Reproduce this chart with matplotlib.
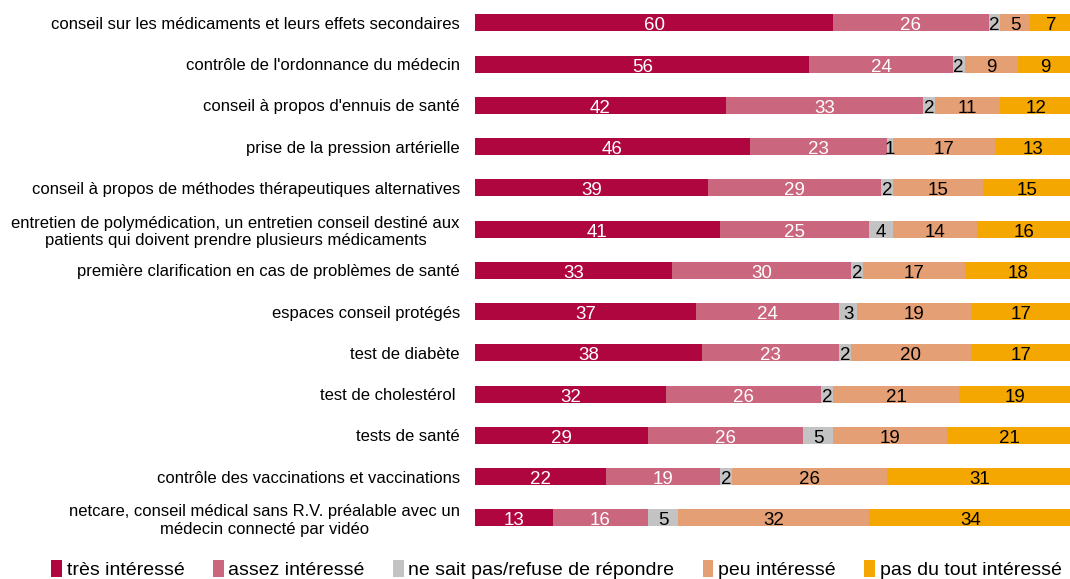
import matplotlib.pyplot as plt
import numpy as np

plt.rcParams['font.family'] = ['Liberation Sans', 'DejaVu Sans']

# data (percent)
categories = [
    "conseil sur les médicaments et leurs effets secondaires",
    "contrôle de l'ordonnance du médecin",
    "conseil à propos d'ennuis de santé",
    "prise de la pression artérielle",
    "conseil à propos de méthodes thérapeutiques alternatives",
    "entretien de polymédication, un entretien conseil destiné aux\npatients qui doivent prendre plusieurs médicaments",
    "première clarification en cas de problèmes de santé",
    "espaces conseil protégés",
    "test de diabète",
    "test de cholestérol ",
    "tests de santé",
    "contrôle des vaccinations et vaccinations",
    "netcare, conseil médical sans R.V. préalable avec un\nmédecin connecté par vidéo",
]
tres = [60, 56, 42, 46, 39, 41, 33, 37, 38, 32, 29, 22, 13]
assez = [26, 24, 33, 23, 29, 25, 30, 24, 23, 26, 26, 19, 16]
nsp = [2, 2, 2, 1, 2, 4, 2, 3, 2, 2, 5, 2, 5]
peu = [5, 9, 11, 17, 15, 14, 17, 19, 20, 21, 19, 26, 32]
pas = [7, 9, 12, 13, 15, 16, 18, 17, 17, 19, 21, 31, 34]

series = [
    ("très intéressé", tres, "#B0063F", "white"),
    ("assez intéressé", assez, "#CA667E", "white"),
    ("ne sait pas/refuse de répondre", nsp, "#C3C3C3", "black"),
    ("peu intéressé", peu, "#E49F75", "black"),
    ("pas du tout intéressé", pas, "#F4A700", "black"),
]

fig = plt.figure(figsize=(10.7, 5.79), dpi=100)
ax = fig.add_axes([0.444, 0.07, 0.558, 0.926])

y = np.arange(len(categories))
left = np.zeros(len(categories))
for name, vals, col, tcol in series:
    vals = np.array(vals, dtype=float)
    bars = ax.barh(y, vals, left=left, height=0.41, color=col, label=name)
    for b, v in zip(bars, vals):
        ax.text(b.get_x() + b.get_width() / 2, b.get_y() + b.get_height() / 2 + 0.07,
                f"{int(v)}", ha="center", va="center", color=tcol, fontsize=13.5)
    left += vals

ax.set_xlim(0, 100)
ax.set_ylim(len(categories) - 0.5, -0.5)
ax.set_yticks(y)
ax.set_yticklabels(categories, fontsize=12, multialignment="center")
ax.tick_params(axis="y", length=0, pad=11)
ax.set_xticks([])
for s in ax.spines.values():
    s.set_visible(False)

fig.legend(loc="lower center", bbox_to_anchor=(0.52, -0.03), ncol=5, frameon=False,
           fontsize=14, handlelength=0.55, handleheight=1.0, handletextpad=0.25,
           columnspacing=1.45)

fig.savefig("out.png", dpi=100)
